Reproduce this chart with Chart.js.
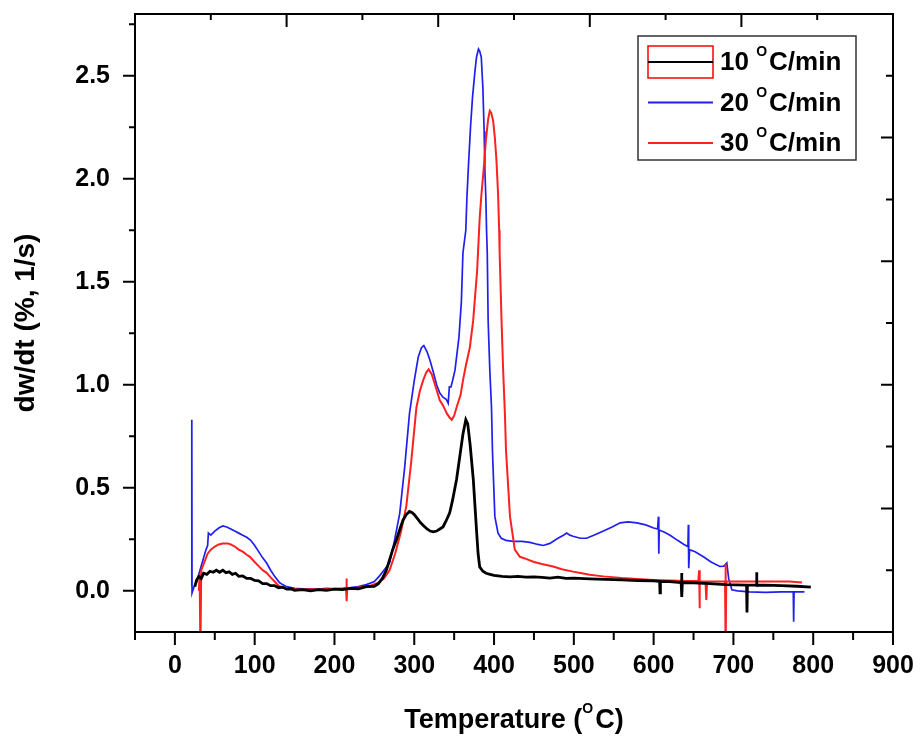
<!DOCTYPE html>
<html>
<head>
<meta charset="utf-8">
<script src="https://cdn.jsdelivr.net/npm/chart.js@4.4.0/dist/chart.umd.min.js"></script>
<style>
  body { margin: 0; background: #fff; }
  #wrap { width: 921px; height: 736px; }
</style>
</head>
<body>
<div id="wrap"><canvas id="dtgChart"></canvas></div>
<script>
// temperature in degC, rate in %/s
const temp10 = [25, 27, 30, 33, 36, 40, 44, 48, 52, 56, 60, 64, 68, 72, 76, 80, 85, 90, 95, 100,
  105, 110, 115, 120, 125, 130, 135, 140, 145, 150, 160, 170, 180, 190, 200, 210, 220, 230, 240, 250,
  255, 260, 265, 269, 273, 277.6, 282, 286, 290, 294, 297, 300, 304, 308, 312, 316, 320, 324, 328, 332,
  336, 340, 344.5, 348, 353, 357, 361, 364.6, 367, 370, 374, 378, 380, 382, 386, 390, 395, 400, 410, 420,
  430, 440, 450, 460, 470, 480, 490, 500, 520, 540, 560, 580, 600, 607.5, 608, 608.5, 620, 634.5, 635, 635.5,
  636, 650, 670, 690, 716.5, 717, 717.5, 728.5, 729, 729.5, 740, 760, 780, 797];
const rate10 = [0.02, 0.05, 0.07, 0.06, 0.085, 0.08, 0.095, 0.09, 0.1, 0.09, 0.1, 0.088, 0.092, 0.08, 0.085, 0.07, 0.072, 0.06, 0.06, 0.05,
  0.048, 0.035, 0.035, 0.025, 0.025, 0.015, 0.018, 0.008, 0.01, 0.002, 0.006, 0.0, 0.006, 0.002, 0.008, 0.006, 0.012, 0.01, 0.02, 0.022,
  0.035, 0.06, 0.1, 0.15, 0.2, 0.247, 0.3, 0.344, 0.37, 0.385, 0.38, 0.37, 0.35, 0.33, 0.315, 0.3, 0.29, 0.286, 0.29, 0.3,
  0.31, 0.34, 0.38, 0.44, 0.54, 0.65, 0.76, 0.83, 0.81, 0.71, 0.54, 0.295, 0.18, 0.116, 0.095, 0.085, 0.08, 0.075, 0.07, 0.068,
  0.07, 0.066, 0.068, 0.065, 0.062, 0.066, 0.06, 0.062, 0.058, 0.055, 0.053, 0.05, 0.048, 0.046, -0.01, 0.045, 0.045, 0.04, 0.087, -0.03,
  0.04, 0.038, 0.035, 0.03, 0.028, -0.105, 0.028, 0.028, 0.09, 0.027, 0.028, 0.025, 0.022, 0.018];

const temp20 = [21, 21.2, 21.5, 24, 27, 30, 33, 36, 39, 41, 42, 45, 50, 55, 60, 65, 70, 75, 80, 85,
  90, 95, 100, 105, 110, 115, 120, 125, 131, 135, 140, 150, 160, 170, 180, 190, 200, 210, 220, 230,
  240, 250, 256, 262, 269, 275, 281.8, 288, 294, 300, 305, 309, 312, 316, 319.6, 324, 328, 332, 336, 340,
  342.5, 344, 346, 348, 351, 356, 359, 361, 364.6, 366, 368, 370.5, 373, 376, 378, 380.5, 382, 384, 386, 387.6,
  388.5, 389.7, 390.6, 391.5, 392.6, 394.7, 396.8, 398, 401, 405, 409, 415, 424, 435, 445, 455, 461.6, 470, 480, 487,
  491, 495, 499, 508, 516, 525, 537, 548, 558, 568, 579, 590, 600, 605, 606, 606.5, 607, 613, 620.6, 630,
  638, 643, 643.5, 644, 645, 652, 662.4, 672, 683, 688, 691.7, 694, 698, 705, 720, 740, 760, 775, 775.5, 776, 789];
const rate20 = [0.02, 0.83, -0.01, 0.02, 0.04, 0.08, 0.12, 0.16, 0.2, 0.22, 0.28, 0.27, 0.29, 0.305, 0.315, 0.31, 0.3, 0.29, 0.28, 0.27,
  0.26, 0.245, 0.22, 0.19, 0.16, 0.135, 0.1, 0.07, 0.04, 0.03, 0.02, 0.012, 0.01, 0.01, 0.008, 0.012, 0.01, 0.012, 0.015, 0.02,
  0.03, 0.045, 0.07, 0.1, 0.135, 0.24, 0.376, 0.6, 0.86, 1.02, 1.135, 1.18, 1.19, 1.16, 1.12, 1.06, 1.0, 0.96, 0.94, 0.93,
  0.91, 0.99, 0.99, 1.02, 1.07, 1.23, 1.4, 1.64, 1.75, 1.91, 2.07, 2.25, 2.395, 2.52, 2.59, 2.63, 2.62, 2.59, 2.44, 2.23,
  2.04, 1.91, 1.75, 1.64, 1.31, 1.07, 0.89, 0.68, 0.36, 0.28, 0.255, 0.245, 0.24, 0.24, 0.235, 0.225, 0.22, 0.23, 0.255, 0.27,
  0.28, 0.27, 0.265, 0.255, 0.255, 0.27, 0.29, 0.31, 0.33, 0.335, 0.33, 0.32, 0.305, 0.3, 0.36, 0.18, 0.295, 0.285, 0.27, 0.245,
  0.225, 0.215, 0.32, 0.11, 0.2, 0.19, 0.165, 0.14, 0.118, 0.12, 0.135, 0.06, 0.005, 0.0, -0.005, -0.008, -0.005, -0.005, -0.15, -0.005, -0.005];

const temp30 = [30, 31, 32, 33, 36, 39, 41, 45, 50, 55, 60, 66, 70, 75, 80, 85, 90, 94, 100, 105,
  110, 115, 120, 125, 130, 135, 140, 150, 160, 170, 180, 190, 200, 210, 214.5, 215, 215.5, 216, 225, 235,
  245, 255, 262, 269, 276, 283, 290, 296, 302.7, 307, 311, 315, 318, 322, 328, 332, 336, 341, 344.5, 347,
  350, 353, 358, 361, 365, 369.6, 373.8, 378.8, 382, 384.3, 387.2, 389.7, 392.6, 394.7, 396.5, 398.9, 401, 403, 405, 406.4,
  407, 409.4, 411.4, 413.6, 415, 420, 426, 432.4, 440, 450, 460, 474, 485, 499, 510, 520, 537, 560, 580, 599.6,
  620, 640, 656, 657, 657.5, 658, 665, 666, 667, 680, 689.5, 690, 690.5, 691, 700, 725, 750, 770, 786];
const rate30 = [0.0, 0.08, -0.3, 0.1, 0.13, 0.16, 0.18, 0.2, 0.215, 0.225, 0.23, 0.23, 0.225, 0.215, 0.2, 0.19, 0.175, 0.165, 0.14, 0.12,
  0.1, 0.087, 0.065, 0.045, 0.025, 0.015, 0.01, 0.008, 0.006, 0.008, 0.006, 0.008, 0.01, 0.01, 0.01, 0.06, -0.05, 0.012, 0.012, 0.018,
  0.025, 0.04, 0.06, 0.1, 0.18, 0.28, 0.41, 0.62, 0.89, 0.97, 1.02, 1.06, 1.075, 1.05, 0.975, 0.925, 0.9, 0.86, 0.84, 0.83,
  0.85, 0.89, 0.95, 1.02, 1.1, 1.18, 1.31, 1.555, 1.81, 1.93, 2.055, 2.185, 2.29, 2.33, 2.32, 2.28, 2.2, 2.09, 1.93, 1.75,
  1.64, 1.31, 1.07, 0.86, 0.68, 0.36, 0.2, 0.165, 0.155, 0.14, 0.13, 0.118, 0.105, 0.093, 0.085, 0.078, 0.07, 0.062, 0.057, 0.053,
  0.05, 0.048, 0.047, 0.1, -0.085, 0.045, 0.045, -0.045, 0.045, 0.045, 0.045, 0.13, -0.3, 0.045, 0.045, 0.045, 0.045, 0.045, 0.04];

const rateLabels = ['10', '20', '30'];
const xTickValues = [0, 100, 200, 300, 400, 500, 600, 700, 800, 900];
const yTickValues = [0, 0.5, 1.0, 1.5, 2.0, 2.5];

const FONT = '"Liberation Sans", Arial, sans-serif';

function toPoints(xs, ys) {
  return xs.map((x, i) => ({ x: x, y: ys[i] }));
}

// text with a raised small "O" for the degree sign, like the original plot
function supParts(ctx, before, after, size, supSize) {
  ctx.font = 'bold ' + size + 'px ' + FONT;
  const w1 = ctx.measureText(before).width;
  const w3 = ctx.measureText(after).width;
  ctx.font = 'bold ' + supSize + 'px ' + FONT;
  const w2 = ctx.measureText('O').width;
  return { w1: w1, w2: w2, w3: w3, total: w1 + w2 + w3 + 2 };
}

function drawSup(ctx, x, y, before, after, size, supSize, rise) {
  const p = supParts(ctx, before, after, size, supSize);
  ctx.textAlign = 'left';
  ctx.textBaseline = 'alphabetic';
  ctx.font = 'bold ' + size + 'px ' + FONT;
  ctx.fillText(before, x, y);
  ctx.font = 'bold ' + supSize + 'px ' + FONT;
  ctx.fillText('O', x + p.w1, y - rise);
  ctx.font = 'bold ' + size + 'px ' + FONT;
  ctx.fillText(after, x + p.w1 + p.w2 + 2, y);
  return p.total;
}

const framePlugin = {
  id: 'frame',
  afterDraw(chart) {
    const ctx = chart.ctx;
    const a = chart.chartArea;
    const sx = chart.scales.x;
    const sy = chart.scales.y;
    const w = a.right - a.left;
    const h = a.bottom - a.top;
    ctx.save();
    ctx.strokeStyle = '#000';
    ctx.lineWidth = 2;
    ctx.strokeRect(a.left, a.top, w, h);

    ctx.beginPath();
    // bottom axis, ticks outward
    for (let t = -50; t <= 900; t += 50) {
      const x = sx.getPixelForValue(t);
      ctx.moveTo(x, a.bottom);
      ctx.lineTo(x, a.bottom + (t % 100 === 0 ? 13 : 8));
    }
    // left axis, ticks outward
    for (let k = 0; k <= 11; k++) {
      const y = sy.getPixelForValue(k * 0.25);
      ctx.moveTo(a.left, y);
      ctx.lineTo(a.left - (k % 2 === 0 ? 12 : 6), y);
    }
    // top and right axes have their own 5 divisions, ticks inward
    for (let k = 0; k <= 10; k++) {
      const x = a.left + w * k / 10;
      ctx.moveTo(x, a.top);
      ctx.lineTo(x, a.top + (k % 2 === 0 ? 13 : 6));
      const y = a.top + h * k / 10;
      ctx.moveTo(a.right, y);
      ctx.lineTo(a.right - (k % 2 === 0 ? 12 : 7), y);
    }
    ctx.stroke();

    // axis titles
    ctx.fillStyle = '#000';
    const p = supParts(ctx, 'Temperature (', 'C)', 27, 14);
    drawSup(ctx, (a.left + a.right) / 2 - p.total / 2, 728, 'Temperature (', 'C)', 27, 14, 15);

    ctx.save();
    ctx.translate(26, (a.top + a.bottom) / 2);
    ctx.rotate(-Math.PI / 2);
    ctx.font = 'bold 28px ' + FONT;
    ctx.textAlign = 'center';
    ctx.textBaseline = 'middle';
    ctx.fillText('dw/dt (%, 1/s)', 0, 0);
    ctx.restore();

    // legend box
    const bl = a.right - 255;
    const bt = a.top + 22;
    ctx.lineWidth = 1.5;
    ctx.strokeStyle = '#333';
    ctx.strokeRect(bl, bt, 218, 124);
    const colors = ['#000000', '#2020ee', '#ff2020'];
    rateLabels.forEach((lab, i) => {
      const cy = bt + 26 + i * 40.5;
      if (i === 0) {
        ctx.strokeStyle = '#ff0000';
        ctx.lineWidth = 1.5;
        ctx.strokeRect(bl + 10, cy - 16, 65, 32);
      }
      ctx.strokeStyle = colors[i];
      ctx.lineWidth = 2;
      ctx.beginPath();
      ctx.moveTo(bl + 10, cy);
      ctx.lineTo(bl + 75, cy);
      ctx.stroke();
      ctx.fillStyle = '#000';
      drawSup(ctx, bl + 82, cy + 8, lab + ' ', 'C/min', 26, 14, 14);
    });
    ctx.restore();
  }
};

const ctx = document.getElementById('dtgChart');

new Chart(ctx, {
  type: 'line',
  data: {
    datasets: [
      {
        label: '10 C/min',
        data: toPoints(temp10, rate10),
        borderColor: '#000000',
        borderWidth: 2.8,
        order: 0
      },
      {
        label: '20 C/min',
        data: toPoints(temp20, rate20),
        borderColor: '#2020ee',
        borderWidth: 1.7,
        order: 2
      },
      {
        label: '30 C/min',
        data: toPoints(temp30, rate30),
        borderColor: '#ff2020',
        borderWidth: 2,
        order: 1
      }
    ]
  },
  options: {
    responsive: true,
    maintainAspectRatio: false,
    animation: false,
    layout: { padding: { left: 0, right: 28, top: 14, bottom: 0 } },
    elements: {
      point: { radius: 0 },
      line: { tension: 0, fill: false }
    },
    scales: {
      x: {
        type: 'linear',
        min: -50,
        max: 900,
        grid: { display: false, drawTicks: false },
        border: { display: false },
        ticks: {
          color: '#000',
          font: { family: FONT, size: 25, weight: 'bold' },
          padding: 19,
          maxRotation: 0,
          autoSkip: false
        },
        afterBuildTicks: s => { s.ticks = xTickValues.map(v => ({ value: v })); },
        afterFit: s => { s.height = 104; s.paddingLeft = 0; s.paddingRight = 0; }
      },
      y: {
        type: 'linear',
        min: -0.2,
        max: 2.8,
        grid: { display: false, drawTicks: false },
        border: { display: false },
        ticks: {
          color: '#000',
          font: { family: FONT, size: 25, weight: 'bold' },
          padding: 25,
          callback: v => Number(v).toFixed(1)
        },
        afterBuildTicks: s => { s.ticks = yTickValues.map(v => ({ value: v })); },
        afterFit: s => { s.width = 135; s.paddingTop = 0; s.paddingBottom = 0; }
      }
    },
    plugins: {
      legend: { display: false },
      tooltip: { enabled: false }
    }
  },
  plugins: [framePlugin]
});
</script>
</body>
</html>
